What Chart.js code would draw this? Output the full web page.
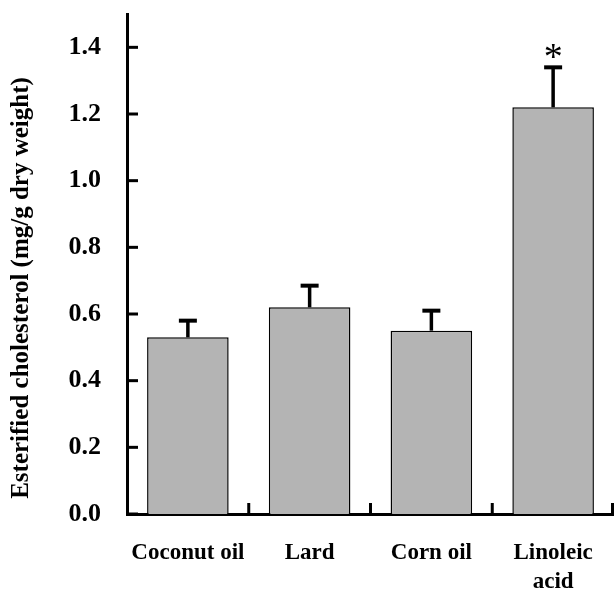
<!DOCTYPE html>
<html>
<head>
<meta charset="utf-8">
<script src="https://cdn.jsdelivr.net/npm/chart.js@4.4.1/dist/chart.umd.min.js"></script>
<style>
  html, body { margin: 0; padding: 0; background: #fff; }
  #wrap { width: 614px; height: 589px; }
</style>
</head>
<body>
<div id="wrap"><canvas id="myChart" width="614" height="589"></canvas></div>
<script>
// diet groups and measured esterified cholesterol (mg/g dry weight)
const groups = [['Coconut oil'], ['Lard'], ['Corn oil'], ['Linoleic', 'acid']];
const means = [0.53, 0.62, 0.55, 1.22];
const errors = [0.05, 0.065, 0.06, 0.12];
const marks = ['', '', '', '*'];
const yTicks = [0.0, 0.2, 0.4, 0.6, 0.8, 1.0, 1.2, 1.4];
const yTitle = 'Esterified cholesterol (mg/g dry weight)';

const serif = '"Liberation Serif", "Times New Roman", serif';

// inward tick marks, error bars (upper only), significance marks, axis title
const extras = {
    id: 'extras',
    afterDatasetsDraw(chart) {
        const c = chart.ctx;
        const x = chart.scales.x, y = chart.scales.y;
        const area = chart.chartArea;
        c.save();
        c.strokeStyle = '#000';
        c.fillStyle = '#000';

        // y ticks pointing right into the plot
        c.lineWidth = 3;
        yTicks.forEach(v => {
            const py = y.getPixelForValue(v);
            c.beginPath();
            c.moveTo(area.left, py);
            c.lineTo(area.left + 11, py);
            c.stroke();
        });

        // x ticks between categories, pointing up
        for (let i = 1; i <= groups.length; i++) {
            const px = Math.min((x.getPixelForValue(i - 1) + x.getPixelForValue(i)) / 2, area.right - 1.5);
            c.beginPath();
            c.moveTo(px, area.bottom);
            c.lineTo(px, area.bottom - 11);
            c.stroke();
        }

        // error bars
        means.forEach((m, i) => {
            const px = x.getPixelForValue(i);
            const top = y.getPixelForValue(m + errors[i]);
            const base = y.getPixelForValue(m);
            c.lineWidth = 3.5;
            c.beginPath();
            c.moveTo(px, base);
            c.lineTo(px, top);
            c.stroke();
            c.lineWidth = 4;
            c.beginPath();
            c.moveTo(px - 9, top);
            c.lineTo(px + 9, top);
            c.stroke();
            if (marks[i]) {
                c.font = '38px ' + serif;
                c.textAlign = 'center';
                c.textBaseline = 'alphabetic';
                c.fillText(marks[i], px, top + 2);
            }
        });

        // rotated y axis title, sits a little below the plot's middle
        c.font = 'bold 25px ' + serif;
        c.textAlign = 'center';
        c.textBaseline = 'alphabetic';
        c.translate(28, (area.top + area.bottom) / 2 + 24);
        c.rotate(-Math.PI / 2);
        c.fillText(yTitle, 0, 0);
        c.restore();
    }
};

const chart = new Chart(document.getElementById('myChart'), {
    type: 'bar',
    data: {
        labels: groups,
        datasets: [{
            data: means,
            backgroundColor: '#b4b4b4',
            borderColor: '#000',
            borderWidth: 1.5,
            borderSkipped: 'bottom',
            barPercentage: 0.67,
            categoryPercentage: 1.0
        }]
    },
    options: {
        responsive: false,
        animation: false,
        layout: { padding: { top: 14, right: 0, left: 0, bottom: 0 } },
        plugins: {
            legend: { display: false },
            tooltip: { enabled: false }
        },
        scales: {
            x: {
                grid: { display: false, drawTicks: false },
                border: { display: true, color: '#000', width: 3 },
                ticks: {
                    color: '#000',
                    padding: 25,
                    autoSkip: false,
                    maxRotation: 0,
                    minRotation: 0,
                    font: { family: serif, size: 23, weight: 'bold', lineHeight: 1.25 }
                },
                afterFit(scale) {
                    scale.height = 75;
                    scale.paddingLeft = 0;
                    scale.paddingRight = 0;
                }
            },
            y: {
                min: 0,
                max: 1.5,
                grid: { display: false, drawTicks: false },
                border: { display: true, color: '#000', width: 3 },
                afterBuildTicks(scale) {
                    scale.ticks = yTicks.map(v => ({ value: v }));
                },
                ticks: {
                    color: '#000',
                    padding: 26,
                    font: { family: serif, size: 26, weight: 'bold' },
                    callback: v => v.toFixed(1)
                },
                afterFit(scale) {
                    scale.width = 127;
                    scale.paddingTop = 0;
                    scale.paddingBottom = 0;
                }
            }
        }
    },
    plugins: [extras]
});
</script>
</body>
</html>
